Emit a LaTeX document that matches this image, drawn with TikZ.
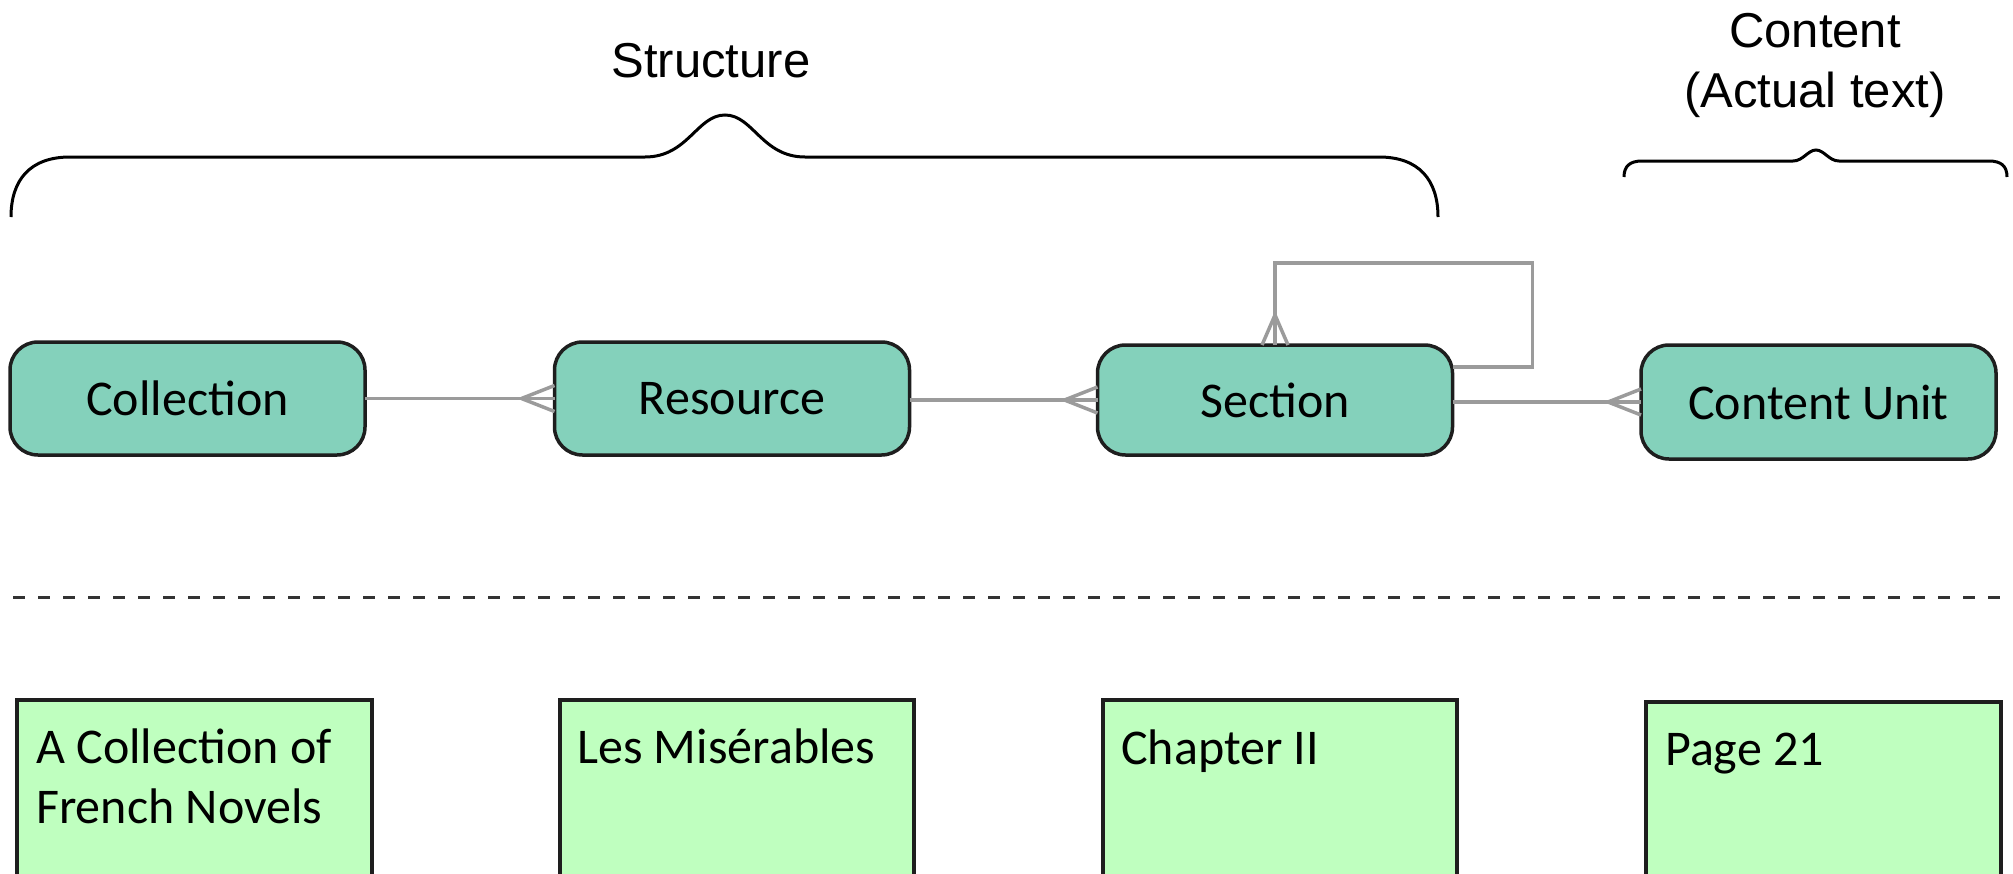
\documentclass[tikz,border=0pt]{standalone}
\usepackage{fontspec}
\setmainfont{Carlito}
\newfontfamily\labelfont{Liberation Sans}
\usetikzlibrary{calc}
\definecolor{entfill}{RGB}{132,209,187}
\definecolor{exfill}{RGB}{191,255,191}
\definecolor{connclr}{RGB}{155,155,155}
\definecolor{edge}{RGB}{30,30,30}
\begin{document}
\begin{tikzpicture}[x=1pt,y=-1pt,
  entity/.style={draw=edge, line width=3.5pt, fill=entfill, rounded corners=28pt,
    minimum width=355pt, minimum height=113pt, inner sep=0pt, outer sep=0pt,
    font=\fontsize{50}{60}\selectfont},
  example/.style={draw=edge, line width=3.5pt, fill=exfill, minimum width=355pt,
    minimum height=200pt, anchor=north west, inner sep=0pt, outer sep=0pt},
  extext/.style={anchor=base west, align=left, inner sep=0pt,
    font=\fontsize{50}{60}\selectfont},
  conn/.style={draw=connclr, line width=3.5pt},
  brace/.style={draw=black, line width=3pt},
  heading/.style={font=\labelfont\fontsize{49}{60}\selectfont, align=center, inner sep=0pt, anchor=base},
  divider/.style={draw=black!80, line width=3pt, dash pattern=on 12pt off 13pt},
]
\useasboundingbox (0,0) rectangle (2013,873);

% headings and braces
\node[heading] (hstruct) at (711,77) {Structure};
\node[heading] (hcontent) at (1815,107) {Content\\(Actual text)};

\draw[brace] (11,217) .. controls (11,180) and (30,157) .. (70,157) -- (645,157)
  .. controls (688,157) and (697,115) .. (725,115)
  .. controls (753,115) and (762,157) .. (805,157) -- (1379,157)
  .. controls (1419,157) and (1438,180) .. (1438,217);
\draw[brace] (1624,177) .. controls (1624,166) and (1630,161) .. (1642,161) -- (1793,161)
  .. controls (1803,161) and (1808,150) .. (1816,150)
  .. controls (1824,150) and (1829,161) .. (1839,161) -- (1989,161)
  .. controls (2001,161) and (2007,166) .. (2007,177);

% entities
\node[entity] (coll) at (187.5,398.5) {Collection};
\node[entity] (res) at (732,398.5) {Resource};
\node[entity, minimum height=110pt] (sec) at (1275,400) {Section};
\node[entity, minimum height=114pt] (cu) at (1818.5,402) {Content Unit};

% connectors with crow's feet
\draw[conn] (coll.east |- res.west) -- (res.west);
\draw[conn] ($(res.west)+(-33,0)$) -- ($(res.west)+(0,-13)$)
            ($(res.west)+(-33,0)$) -- ($(res.west)+(0,13)$);
\draw[conn] (res.east |- sec.west) -- (sec.west);
\draw[conn] ($(sec.west)+(-33,0)$) -- ($(sec.west)+(0,-13)$)
            ($(sec.west)+(-33,0)$) -- ($(sec.west)+(0,13)$);
\draw[conn] (sec.east |- cu.west) -- (cu.west);
\draw[conn] ($(cu.west)+(-33,0)$) -- ($(cu.west)+(0,-13)$)
            ($(cu.west)+(-33,0)$) -- ($(cu.west)+(0,13)$);
% self loop on Section
\draw[conn] ($(sec.east)+(0,-33)$) -| ++(80,-104) -| (sec.north);
\draw[conn] ($(sec.north)+(0,-30)$) -- ($(sec.north)+(-13,0)$)
            ($(sec.north)+(0,-30)$) -- ($(sec.north)+(13,0)$);

% divider
\coordinate (dl) at (13,597);
\coordinate (dr) at (2005,597);
\draw[divider] (dl) -- (dr);

% examples
\node[example] (ex1) at (17,700) {};
\node[example, minimum width=354pt] (ex2) at (560,700) {};
\node[example, minimum width=354pt] (ex3) at (1103,700) {};
\node[example] (ex4) at (1646,702) {};
\node[extext] (t1) at ($(ex1.north west)+(19,123)$) {A Collection of\\French Novels};
\node[extext] (t2) at ($(ex2.north west)+(17,63)$) {Les Misérables};
\node[extext] (t3) at ($(ex3.north west)+(18,64)$) {Chapter II};
\node[extext] (t4) at ($(ex4.north west)+(19,63)$) {Page 21};
\end{tikzpicture}
\end{document}
